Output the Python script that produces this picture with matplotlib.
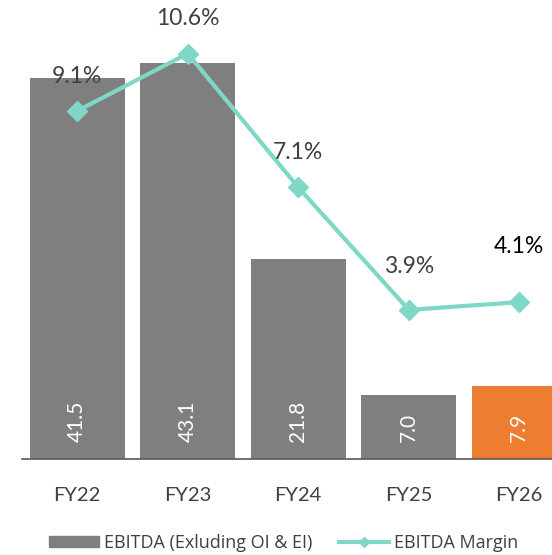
import matplotlib.pyplot as plt

years = ['FY22', 'FY23', 'FY24', 'FY25', 'FY26']
ebitda = [41.5, 43.1, 21.8, 7.0, 7.9]
margin = [9.1, 10.6, 7.1, 3.9, 4.1]

GRAY = '#7f7f7f'
ORANGE = '#ed7d31'
TEAL = '#7fd7c7'
TXT = '#404040'

fig = plt.figure(figsize=(5.52, 5.55), dpi=100)
ax = fig.add_axes([22 / 552, 96 / 555, 552.5 / 552, 459 / 555])

x = list(range(len(years)))
colors = [GRAY] * (len(years) - 1) + [ORANGE]
ax.bar(x, ebitda, width=0.86, color=colors, zorder=2)

# value labels inside bars
for i, v in enumerate(ebitda):
    ax.annotate(f'{v:.1f}', (i, 0), xytext=(0, 12), textcoords='offset points',
                rotation=90, ha='center', va='bottom', color='white',
                fontsize=15, family='Lato')

ax.set_xlim(-0.5, 4.5)
ax.set_ylim(0, 50)
ax.set_yticks([])
for s in ['top', 'right', 'left']:
    ax.spines[s].set_visible(False)
ax.spines['bottom'].set_color('#595959')
ax.spines['bottom'].set_linewidth(1.2)
ax.set_xticks(x)
ax.set_xticklabels(years, fontsize=14.5, family='Lato', color=TXT)
ax.tick_params(axis='x', length=0, pad=20)

ax2 = ax.twinx()
ax2.set_ylim(0, 12)
ax2.set_yticks([])
for s in ax2.spines.values():
    s.set_visible(False)
ax2.plot(x, margin, color=TEAL, lw=3, marker='D', markersize=10, zorder=3)

# margin labels
offsets = [25, 25, 25, 31, 40]
for i, m in enumerate(margin):
    c = 'black' if i == len(margin) - 1 else TXT
    ax2.annotate(f'{m:.1f}%', (i, m), xytext=(0, offsets[i]), textcoords='offset points',
                 ha='center', va='center', color=c, fontsize=16.5, family='Lato')

h1 = plt.Rectangle((0, 0), 1, 1, color=GRAY)
h2, = ax2.plot([], [], color=TEAL, lw=3, marker='D', markersize=5)
leg = fig.legend([h1, h2], ['EBITDA (Exluding OI & EI)', 'EBITDA Margin'],
                 loc='center left', bbox_to_anchor=(33 / 552, 12 / 555), ncol=2,
                 frameon=False, prop={'family': 'Open Sans', 'size': 13},
                 handlelength=2.75, handleheight=0.6, handletextpad=0.3,
                 columnspacing=1.45, labelcolor=TXT)

fig.savefig('out.png', dpi=100)
